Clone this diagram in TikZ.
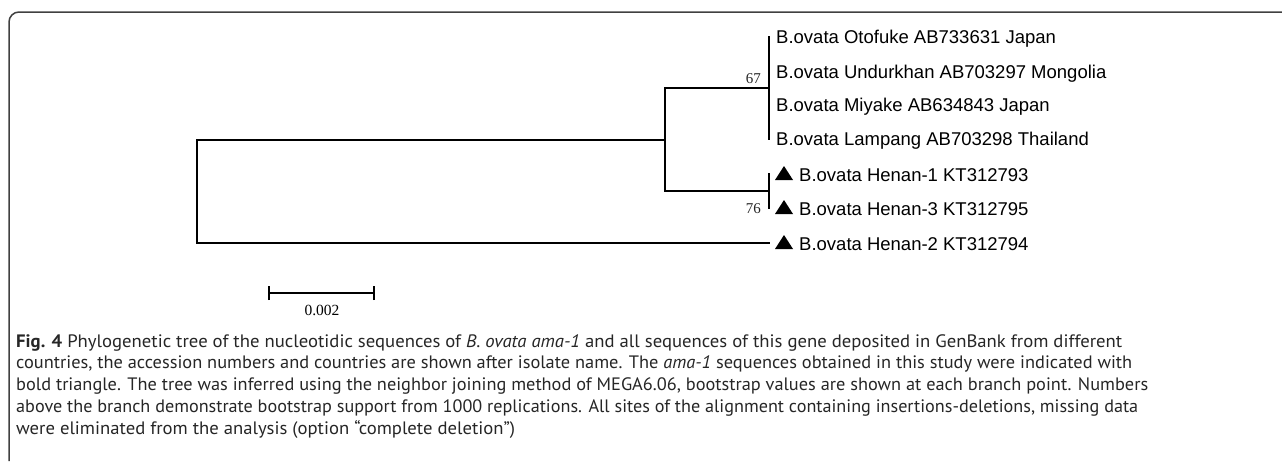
\documentclass[tikz,border=0pt]{standalone}
\usepackage{fontspec}
\setmainfont{Liberation Serif}
\newfontfamily\arialf{Liberation Sans}
\newfontfamily\capf{PT Sans}
\usepackage{graphicx}
\newcommand{\capfit}[2]{\resizebox{#1}{\height}{#2}}
\begin{document}
\begin{tikzpicture}[x=1pt,y=-1pt,
  branch/.style={line width=2pt, black, line cap=rect},
  frame/.style={line width=1.5pt, black!75},
  leaflab/.style={anchor=base west, inner sep=0pt, font=\arialf\fontsize{18.5}{20}\selectfont},
  boot/.style={anchor=base east, inner sep=0pt, font=\fontsize{15}{16}\selectfont, black!85},
  scalelab/.style={anchor=base, inner sep=0pt, font=\fontsize{15.5}{16}\selectfont},
  tri/.style={fill=black},
  capline/.style={anchor=base west, inner sep=0pt, text=black!85, font=\capf\fontsize{18}{20}\selectfont}]
\useasboundingbox (0,0) rectangle (1282,461);
% frame
\draw[frame] (9,461) -- (9,22) arc[start angle=180, end angle=270, radius=10] -- (1282,12);

% tree coordinates
\coordinate (L1) at (769,37);
\coordinate (L4) at (769,139);
\coordinate (A) at (769,88);
\coordinate (H1) at (769,174);
\coordinate (H3) at (769,208);
\coordinate (B) at (769,191);
\coordinate (H2) at (769,243);
\coordinate (Itop) at (665,88);
\coordinate (Ibot) at (665,191);
\coordinate (I) at (665,139.5);
\coordinate (Rtop) at (197,139.5);
\coordinate (Rbot) at (197,243);

% branches
\draw[branch] (L1) -- (L4);
\draw[branch] (H1) -- (H3);
\draw[branch] (A) -- (Itop) -- (Ibot) -- (B);
\draw[branch] (I) -- (Rtop) -- (Rbot) -- (H2);

% leaf labels
\node[leaflab] (t1) at (776,43.5) {B.ovata Otofuke AB733631 Japan};
\node[leaflab] (t2) at (776,78.5) {B.ovata Undurkhan AB703297 Mongolia};
\node[leaflab] (t3) at (776,111.5) {B.ovata Miyake AB634843 Japan};
\node[leaflab] (t4) at (776,145) {B.ovata Lampang AB703298 Thailand};
\node[leaflab] (t5) at (799,181) {B.ovata Henan-1 KT312793};
\node[leaflab] (t6) at (799,215) {B.ovata Henan-3 KT312795};
\node[leaflab] (t7) at (799,250) {B.ovata Henan-2 KT312794};
\fill[tri] (775,180) -- (793,180) -- (784,166) -- cycle;
\fill[tri] (775,214) -- (793,214) -- (784,200) -- cycle;
\fill[tri] (775,249) -- (793,249) -- (784,235) -- cycle;

% bootstrap
\node[boot] (b67) at (761,83) {67};
\node[boot] (b76) at (761,213) {76};

% scale bar
\coordinate (s1) at (269,293);
\coordinate (s2) at (374,293);
\draw[branch, line cap=butt] (s1) -- (s2);
\draw[line width=2pt] ([yshift=-7pt]s1) -- ([yshift=7pt]s1);
\draw[line width=2pt] ([yshift=-7pt]s2) -- ([yshift=7pt]s2);
\node[scalelab] (sl) at (322,315) {0.002};

% caption
\node[capline] (c1) at (16,347) {\capfit{1106pt}{\textbf{Fig. 4} Phylogenetic tree of the nucleotidic sequences of \textit{B. ovata ama-1} and all sequences of this gene deposited in GenBank from different}};
\node[capline] (c2) at (16,368.7) {\capfit{1116pt}{countries, the accession numbers and countries are shown after isolate name. The \textit{ama-1} sequences obtained in this study were indicated with}};
\node[capline] (c3) at (16,390.5) {\capfit{1132pt}{bold triangle. The tree was inferred using the neighbor joining method of MEGA6.06, bootstrap values are shown at each branch point. Numbers}};
\node[capline] (c4) at (16,412.2) {\capfit{1122pt}{above the branch demonstrate bootstrap support from 1000 replications. All sites of the alignment containing insertions-deletions, missing data}};
\node[capline] (c5) at (16,434) {\capfit{499pt}{were eliminated from the analysis (option “complete deletion”)}};
\end{tikzpicture}
\end{document}
